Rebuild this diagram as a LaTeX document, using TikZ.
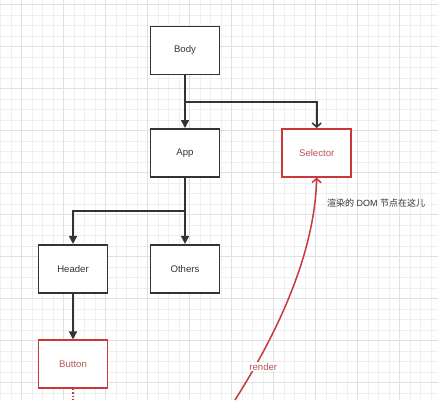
\documentclass[tikz,border=0pt]{standalone}
\usepackage{fontspec}
\setmainfont{Liberation Sans}
\newfontfamily\cjk{Noto Sans CJK SC}
\usetikzlibrary{arrows.meta}
\definecolor{boxline}{HTML}{333333}
\definecolor{redline}{HTML}{C8393C}
\definecolor{redtext}{HTML}{B85450}
\definecolor{minorgrid}{HTML}{EFEFEF}
\definecolor{majorgrid}{HTML}{E0E0E0}
\begin{document}
\begin{tikzpicture}[x=1pt,y=-1pt,
  minorline/.style={draw=minorgrid,line width=0.6pt},
  majorline/.style={draw=majorgrid,line width=0.8pt},
  blackbox/.style={draw=boxline,line width=1.6pt,fill=white,minimum width=69pt,minimum height=48pt,inner sep=0pt,font=\fontsize{9.6}{11}\selectfont,text=boxline},
  redbox/.style={blackbox,draw=redline,text=redtext},
  filledarrow/.style={draw=boxline,line width=1.6pt,-{Triangle[length=8pt,width=8pt]}},
  openarrow/.style={draw=boxline,line width=1.6pt,-{Straight Barb[length=4pt,width=9pt,line width=1.5pt]}},
  redarrow/.style={draw=redline,line width=1.5pt,-{Straight Barb[length=4pt,width=9pt,line width=1.5pt]}},
  dotline/.style={draw=redline,line width=1.3pt,dash pattern=on 1.3pt off 2pt},
  note/.style={font=\fontsize{9}{11}\selectfont,text=boxline,inner sep=1pt}
]
\useasboundingbox (0,0) rectangle (438,400);
\fill[white] (0,0) rectangle (438,400);
% grid
\foreach \i in {0,...,41} \draw[minorline] ({0.7+10.5*\i},0) -- ++(0,400);
\foreach \i in {0,...,37} \draw[minorline] (0,{4.7+10.5*\i}) -- ++(438,0);
\foreach \i in {0,...,9} \draw[majorline] ({21.7+42*\i},0) -- ++(0,400);
\foreach \i in {0,...,9} \draw[majorline] (0,{4.7+42*\i}) -- ++(438,0);
% nodes
\node[blackbox] (body) at (185,50.3) {Body};
\node[blackbox] (app) at (185,152.8) {App};
\node[redbox] (selector) at (316.7,152.8) {Selector};
\node[blackbox] (header) at (73,268.7) {Header};
\node[blackbox] (others) at (185,268.7) {Others};
\node[redbox] (button) at (73,364.2) {Button};
\coordinate (j1) at (185,101.7);
\coordinate (j2) at (185,211);
\coordinate (dotend) at (73,400);
\coordinate (rstart) at (235,400);
% connectors
\draw[filledarrow] (body) -- (app);
\draw[openarrow] (j1) -| (selector.north);
\draw[filledarrow] (app) -- (others);
\draw[filledarrow] (j2) -| (header.north);
\draw[filledarrow] (header) -- (button);
\draw[dotline] (button.south) -- (dotend);
\draw[redarrow] (rstart) .. controls (287.7,316.7) and (314.9,242.7) .. (selector.south);
% labels
\node[fill=white,inner sep=1pt,text=redtext,font=\fontsize{9.6}{11}\selectfont] (render) at (263.3,366.7) {render};
\node[note,anchor=west] (domnote) at (326,203.3) {{\cjk 渲染的} DOM {\cjk 节点在这儿}};
\end{tikzpicture}
\end{document}
